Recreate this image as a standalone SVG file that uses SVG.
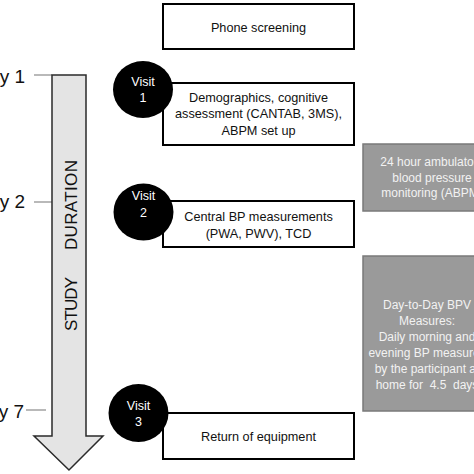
<svg xmlns="http://www.w3.org/2000/svg" width="474" height="474" viewBox="0 0 474 474">
<style>
.box{fill:#fff;stroke:#000;stroke-width:2}
.gbox{fill:#9a9a9a;stroke:#7a7a7a;stroke-width:1.5}
.t{font-family:"Liberation Sans",Arial,sans-serif;font-size:12.7px;fill:#111;text-anchor:middle}
.gt{font-family:"Liberation Sans",Arial,sans-serif;font-size:12px;fill:#f2f2f2;text-anchor:middle}
.vt{font-family:"Liberation Sans",Arial,sans-serif;font-size:12.5px;fill:#fff;text-anchor:middle}
.day{font-family:"Liberation Sans",Arial,sans-serif;font-size:19px;fill:#111;text-anchor:end}
.tick{stroke:#8a8a8a;stroke-width:1.2}
.circ{fill:#000}
</style>
<rect width="474" height="474" fill="#fff"/>
<g id="connectors">
<line class="tick" x1="34" y1="75" x2="52" y2="75"/>
<line class="tick" x1="34" y1="202" x2="52" y2="202"/>
<line class="tick" x1="26" y1="410" x2="46" y2="410"/>
</g>
<g id="timeline">
<polygon points="52,75 86,75 86,436 103,436 69,470 34,436 52,436" fill="#e4e4e4" stroke="#2a2a2a" stroke-width="1.5"/>
<text transform="translate(77,331) rotate(-90)" font-family="'Liberation Sans',Arial,sans-serif" font-size="17" fill="#111"><tspan x="0" textLength="54">STUDY</tspan><tspan x="81" textLength="90">DURATION</tspan></text>
</g>
<g id="day1"><text class="day" x="25" y="83">Day 1</text></g>
<g id="day2"><text class="day" x="25" y="208">Day 2</text></g>
<g id="day7"><text class="day" x="24" y="418">Day 7</text></g>
<g id="phone">
<rect class="box" x="163" y="4" width="191" height="45"/>
<text class="t" x="258.5" y="31.5" font-size="13">Phone screening</text>
</g>
<g id="box1">
<rect class="box" x="163" y="83" width="191" height="62"/>
<text class="t" x="258.5" y="102">Demographics, cognitive</text>
<text class="t" x="258.5" y="118">assessment (CANTAB, 3MS),</text>
<text class="t" x="258.5" y="135">ABPM set up</text>
</g>
<g id="visit1">
<ellipse class="circ" cx="143" cy="89.5" rx="30" ry="28.5"/>
<text class="vt" x="143" y="86">Visit</text>
<text class="vt" x="143" y="102">1</text>
</g>
<g id="box2">
<rect class="box" x="163" y="201" width="191" height="46"/>
<text class="t" x="258.5" y="221">Central BP measurements</text>
<text class="t" x="258.5" y="238">(PWA, PWV), TCD</text>
</g>
<g id="visit2">
<ellipse class="circ" cx="143.5" cy="212" rx="30" ry="28.5"/>
<text class="vt" x="143.5" y="200">Visit</text>
<text class="vt" x="143.5" y="217">2</text>
</g>
<g id="box3">
<rect class="box" x="163" y="413" width="191" height="46"/>
<text class="t" x="258.5" y="441">Return of equipment</text>
</g>
<g id="visit3">
<ellipse class="circ" cx="138.5" cy="413" rx="30" ry="29"/>
<text class="vt" x="138.5" y="410">Visit</text>
<text class="vt" x="138.5" y="426">3</text>
</g>
<g id="abpm">
<rect class="gbox" x="363" y="144" width="140" height="67"/>
<text class="gt" x="432" y="166">24 hour ambulatory</text>
<text class="gt" x="432" y="182">blood pressure</text>
<text class="gt" x="432" y="197">monitoring (ABPM)</text>
</g>
<g id="bpv">
<rect class="gbox" x="363" y="256" width="140" height="155"/>
<text class="gt" x="427" y="309">Day-to-Day BPV</text>
<text class="gt" x="427" y="325">Measures:</text>
<text class="gt" x="427" y="341">Daily morning and</text>
<text class="gt" x="427" y="357">evening BP measures</text>
<text class="gt" x="427" y="373">by the participant at</text>
<text class="gt" x="427" y="389" xml:space="preserve">home for  4.5  days</text>
</g>
</svg>
